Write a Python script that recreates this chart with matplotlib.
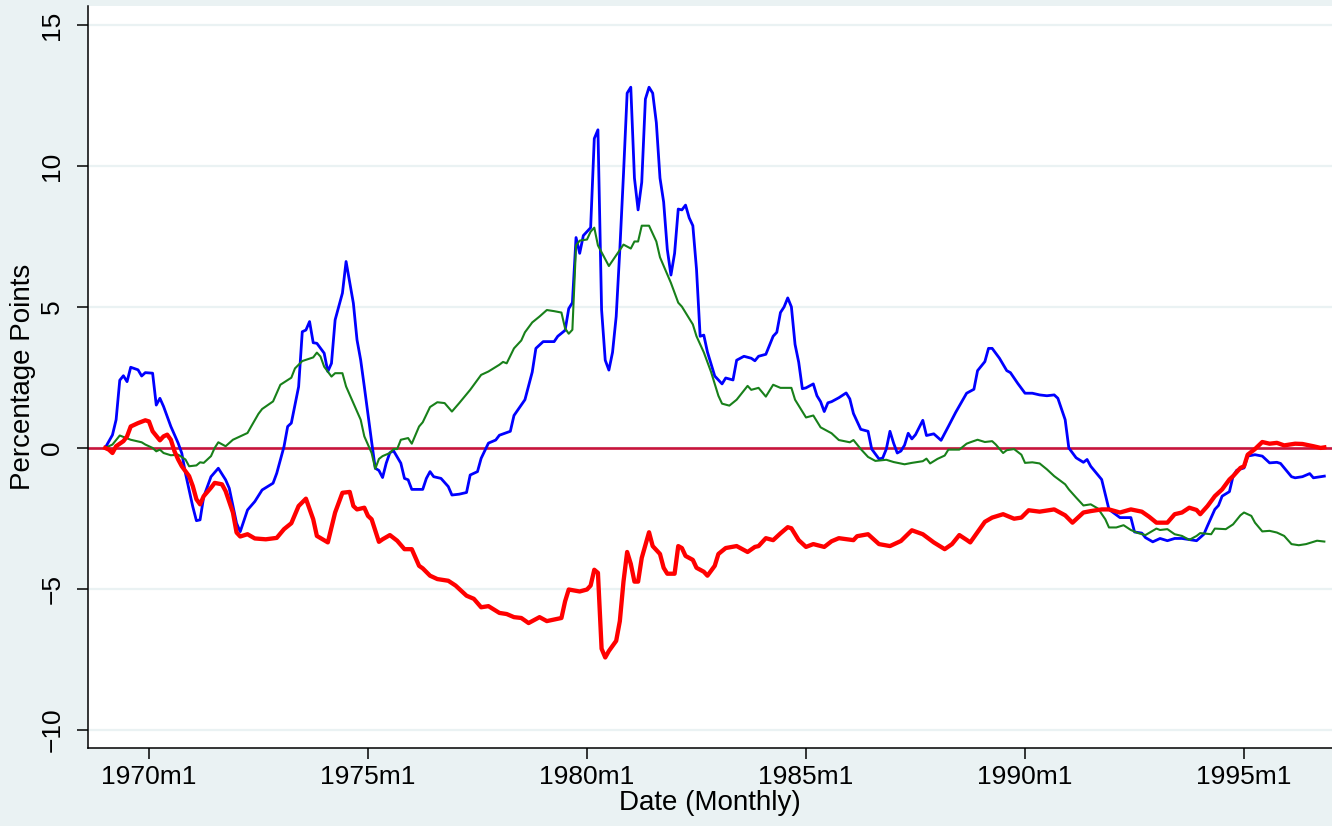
import numpy as np
import matplotlib
matplotlib.use("Agg")
import matplotlib.pyplot as plt

# months counted from 1970m1 (negative = 1969)
blue_m = [-12, -10, -9, -8, -7, -6, -5, -3, -2, -1, 1, 2, 3, 4, 6, 8, 9, 10, 12, 13, 14, 15, 17, 19, 21, 22, 24, 25,
          27, 29, 31, 34, 35, 37, 38, 39, 41, 42, 43, 44, 45, 46, 48, 49, 50, 51, 53, 54, 56, 57, 58, 59, 61, 62, 63,
          64, 65, 66, 67, 69, 70, 71, 72, 75, 76, 77, 78, 80, 82, 83, 85, 87, 88, 90, 91, 93, 95, 96, 99, 100, 103,
          105, 106, 108, 111, 112, 114, 115, 116, 117, 118, 119, 120, 121, 122, 123, 124, 125, 126, 127, 128, 129,
          130, 131, 132, 133, 134, 135, 136, 137, 138, 139, 140, 141, 142, 143, 144, 145, 146, 147, 148, 149, 150,
          151, 152, 153, 154, 155, 157, 158, 160, 161, 163, 165, 166, 167, 169, 171, 172, 173, 174, 175, 176, 177,
          178, 179, 180, 182, 183, 184, 185, 186, 187, 189, 191, 192, 193, 195, 197, 198, 200, 201, 202, 203, 204,
          205, 206, 207, 208, 209, 210, 212, 213, 215, 217, 219, 221, 223, 224, 226, 227, 229, 230, 231, 233, 235,
          236, 238, 240, 242, 244, 246, 248, 249, 251, 252, 254, 256, 257, 258, 261, 263, 266, 269, 270, 272, 273,
          275, 277, 279, 281, 283, 287, 289, 290, 292, 293, 294, 296, 297, 298, 300, 301, 303, 305, 307, 309, 310,
          313, 314, 316, 318, 319, 321, 322]
blue_v = [0, 0.46, 1.0, 2.4, 2.56, 2.35, 2.86, 2.77, 2.55, 2.67, 2.65, 1.52, 1.76, 1.47, 0.76, 0.17, -0.19, -0.9,
          -2.08, -2.58, -2.55, -1.73, -1.02, -0.72, -1.13, -1.43, -2.67, -2.97, -2.2, -1.9, -1.49, -1.25, -0.9, 0.05,
          0.76, 0.88, 2.17, 4.12, 4.18, 4.48, 3.73, 3.71, 3.36, 2.71, 3.0, 4.54, 5.49, 6.61, 5.13, 3.83, 3.12, 2.17,
          0.22, -0.72, -0.8, -1.05, -0.54, -0.17, -0.1, -0.54, -1.08, -1.13, -1.47, -1.47, -1.08, -0.84, -1.02,
          -1.08, -1.37, -1.67, -1.64, -1.58, -0.96, -0.84, -0.37, 0.17, 0.28, 0.45, 0.59, 1.15, 1.71, 2.69, 3.53,
          3.77, 3.77, 3.96, 4.17, 4.94, 5.15, 7.46, 6.9, 7.53, 7.67, 7.81, 10.97, 11.28, 4.9, 3.11, 2.76, 3.39, 4.66,
          7.04, 9.71, 12.58, 12.79, 9.57, 8.44, 9.42, 12.37, 12.79, 12.58, 11.53, 9.57, 8.72, 7.04, 6.13, 6.9, 8.47,
          8.44, 8.61, 8.16, 7.88, 6.34, 3.96, 4.0, 3.4, 2.97, 2.55, 2.27, 2.48, 2.41, 3.11, 3.25, 3.18, 3.09, 3.25,
          3.32, 3.96, 4.1, 4.8, 5.0, 5.32, 5.0, 3.67, 3.04, 2.1, 2.13, 2.27, 1.85, 1.64, 1.29, 1.6, 1.64, 1.78, 1.95,
          1.74, 1.22, 0.66, 0.59, -0.04, -0.39, -0.36, -0.04, 0.59, 0.17, -0.18, -0.11, 0.1, 0.52, 0.32, 0.47, 0.98,
          0.44, 0.5, 0.27, 0.76, 1.26, 1.71, 1.94, 2.08, 2.74, 3.06, 3.53, 3.53, 3.18, 2.74, 2.67, 2.29, 1.94, 1.94,
          1.88, 1.85, 1.88, 1.76, 1.0, 0.0, -0.35, -0.51, -0.41, -0.65, -1.12, -2.18, -2.47, -2.47, -2.98, -3.02,
          -3.18, -3.33, -3.21, -3.29, -3.21, -3.21, -3.29, -3.06, -2.76, -2.18, -2.04, -1.71, -1.55, -1.0, -0.79,
          -0.71, -0.29, -0.24, -0.29, -0.53, -0.51, -0.55, -1.02, -1.06, -1.02, -0.91, -1.06, -1.02, -1.0]

green_m = [-12, -10, -8, -7, -5, -2, -1, 1, 2, 3, 4, 6, 8, 10, 11, 13, 14, 15, 17, 18, 19, 21, 23, 25, 27, 28, 30,
           31, 34, 36, 39, 40, 42, 45, 46, 47, 48, 50, 51, 53, 54, 56, 58, 59, 61, 62, 63, 64, 66, 67, 68, 69, 71,
           72, 74, 75, 77, 79, 81, 83, 85, 88, 91, 93, 96, 97, 98, 100, 102, 103, 105, 107, 109, 111, 113, 114, 115,
           116, 117, 118, 120, 121, 122, 123, 126, 128, 130, 132, 133, 134, 135, 137, 139, 140, 143, 145, 146, 149,
           150, 152, 154, 156, 157, 159, 161, 164, 165, 167, 169, 171, 173, 176, 177, 180, 182, 184, 187, 189, 192,
           193, 195, 197, 199, 202, 204, 207, 209, 212, 213, 214, 216, 218, 219, 222, 224, 225, 227, 229, 231, 232,
           234, 235, 237, 239, 240, 242, 244, 246, 248, 251, 252, 254, 256, 258, 260, 262, 263, 265, 267, 269, 271,
           273, 276, 277, 279, 281, 283, 285, 287, 288, 291, 292, 295, 297, 299, 300, 302, 303, 305, 307, 309, 311,
           313, 315, 317, 320, 322]
green_v = [0, 0.12, 0.44, 0.39, 0.29, 0.2, 0.12, 0, -0.12, -0.06, -0.18, -0.26, -0.24, -0.41, -0.65, -0.62, -0.51,
           -0.53, -0.29, 0, 0.2, 0.06, 0.29, 0.41, 0.53, 0.76, 1.21, 1.38, 1.65, 2.24, 2.49, 2.82, 3.08, 3.21, 3.38,
           3.24, 2.88, 2.53, 2.65, 2.65, 2.18, 1.59, 1.0, 0.41, -0.18, -0.74, -0.39, -0.29, -0.18, -0.04, -0.04, 0.29,
           0.35, 0.15, 0.76, 0.91, 1.45, 1.62, 1.59, 1.29, 1.59, 2.06, 2.59, 2.71, 2.95, 3.05, 3.0, 3.53, 3.81, 4.1,
           4.45, 4.66, 4.89, 4.85, 4.8, 4.24, 4.05, 4.19, 7.18, 7.35, 7.39, 7.67, 7.81, 7.18, 6.45, 6.83, 7.21, 7.07,
           7.32, 7.32, 7.88, 7.88, 7.32, 6.76, 5.85, 5.15, 5.01, 4.38, 3.96, 3.39, 2.69, 1.85, 1.57, 1.5, 1.71, 2.2,
           2.06, 2.13, 1.82, 2.24, 2.13, 2.13, 1.71, 1.08, 1.15, 0.73, 0.52, 0.28, 0.2, 0.28, -0.04, -0.32, -0.46,
           -0.42, -0.5, -0.58, -0.53, -0.47, -0.38, -0.55, -0.39, -0.27, -0.06, -0.06, 0.15, 0.2, 0.29, 0.21, 0.24,
           0.12, -0.18, -0.08, -0.04, -0.24, -0.53, -0.51, -0.55, -0.76, -1.0, -1.29, -1.47, -1.76, -2.04, -2.0,
           -2.15, -2.53, -2.82, -2.82, -2.74, -2.91, -3.02, -3.09, -2.86, -2.91, -2.88, -3.06, -3.12, -3.26, -3.12,
           -3.02, -3.06, -2.86, -2.88, -2.71, -2.39, -2.29, -2.41, -2.65, -2.96, -2.94, -3.0, -3.12, -3.41, -3.45,
           -3.41, -3.29, -3.32]

red_m = [-12, -11, -10, -9, -7, -6, -5, -3, -1, 0, 1, 3, 4, 5, 6, 7, 8, 9, 11, 12, 13, 14, 15, 17, 18, 20, 21, 23,
         24, 25, 27, 29, 32, 35, 37, 39, 41, 43, 45, 46, 49, 51, 53, 55, 56, 57, 59, 60, 61, 63, 64, 66, 68, 70, 72,
         74, 75, 77, 79, 82, 84, 87, 89, 91, 93, 96, 98, 100, 102, 104, 107, 109, 113, 114, 115, 118, 120, 121, 122,
         123, 124, 125, 126, 128, 129, 130, 131, 132, 133, 134, 135, 137, 138, 140, 141, 142, 144, 145, 146, 147,
         149, 150, 152, 153, 155, 156, 158, 161, 164, 166, 167, 169, 171, 173, 175, 176, 178, 180, 182, 185, 187,
         189, 193, 194, 197, 200, 203, 206, 209, 212, 215, 218, 220, 222, 224, 225, 229, 231, 234, 237, 239, 241,
         244, 248, 251, 253, 256, 258, 261, 263, 266, 269, 272, 274, 276, 279, 281, 283, 285, 287, 288, 290, 292,
         294, 296, 297, 299, 300, 301, 303, 305, 307, 309, 311, 314, 316, 319, 321, 322]
red_v = [0, -0.06, -0.18, 0.06, 0.24, 0.41, 0.76, 0.88, 0.98, 0.94, 0.59, 0.27, 0.41, 0.47, 0.29, -0.12, -0.41, -0.65,
         -1.0, -1.35, -1.82, -2.0, -1.71, -1.41, -1.24, -1.29, -1.53, -2.29, -3.0, -3.14, -3.06, -3.21, -3.24, -3.19,
         -2.88, -2.67, -2.06, -1.8, -2.53, -3.12, -3.35, -2.29, -1.59, -1.56, -2.06, -2.18, -2.12, -2.41, -2.53,
         -3.33, -3.24, -3.09, -3.29, -3.59, -3.59, -4.18, -4.27, -4.53, -4.65, -4.71, -4.88, -5.24, -5.35, -5.65,
         -5.61, -5.85, -5.89, -6.0, -6.03, -6.21, -6.0, -6.14, -6.03, -5.44, -5.02, -5.09, -5.02, -4.88, -4.32,
         -4.43, -7.12, -7.43, -7.2, -6.84, -6.14, -4.74, -3.69, -4.11, -4.74, -4.74, -3.9, -2.99, -3.48, -3.76,
         -4.25, -4.46, -4.46, -3.48, -3.55, -3.83, -3.97, -4.25, -4.39, -4.53, -4.18, -3.76, -3.55, -3.48, -3.69,
         -3.51, -3.48, -3.2, -3.27, -3.03, -2.81, -2.85, -3.27, -3.51, -3.41, -3.51, -3.31, -3.2, -3.27, -3.13,
         -3.06, -3.41, -3.48, -3.3, -2.92, -3.06, -3.35, -3.59, -3.41, -3.09, -3.26, -3.35, -2.62, -2.47, -2.35,
         -2.51, -2.47, -2.21, -2.26, -2.18, -2.39, -2.65, -2.29, -2.24, -2.18, -2.18, -2.29, -2.18, -2.26, -2.44,
         -2.65, -2.65, -2.35, -2.29, -2.12, -2.2, -2.35, -2.06, -1.71, -1.47, -1.12, -1.0, -0.71, -0.65, -0.24,
         -0.04, 0.21, 0.15, 0.18, 0.09, 0.15, 0.14, 0.06, 0.0, 0.02]

tick_months = [0, 60, 120, 180, 240, 300]
tick_labels = ["1970m1", "1975m1", "1980m1", "1985m1", "1990m1", "1995m1"]
y_ticks = [-10, -5, 0, 5, 10, 15]

bg = "#eaf2f3"
plt.rcParams["font.family"] = ["Liberation Sans", "DejaVu Sans"]

fig = plt.figure(figsize=(13.32, 8.26), dpi=100, facecolor=bg)
ax = fig.add_axes([88 / 1332, 78 / 826, 1 - 88 / 1332, 742 / 826])
ax.set_facecolor("white")

for yv in y_ticks:
    ax.axhline(yv, color=bg, lw=1.6, zorder=0)
ax.axhline(0, color="#c8143c", lw=1.9, zorder=1)

ax.plot(blue_m, blue_v, color="#0000ff", lw=2.0, zorder=3)
ax.plot(green_m, green_v, color="#18801a", lw=1.5, zorder=3)
ax.plot(red_m, red_v, color="#ff0000", lw=3.1, zorder=4)

ax.set_xlim(-16.7, 324.1)
ax.set_ylim(-10.64, 15.67)
ax.set_xticks(tick_months)
ax.set_xticklabels(tick_labels)
ax.set_yticks(y_ticks)
ax.set_yticklabels([str(v).replace("-", "\u2212") for v in y_ticks], rotation=90, va="center")
ax.tick_params(axis="both", direction="out", length=8, width=1.1, labelsize=19, colors="black")
ax.tick_params(axis="y", pad=9)
ax.tick_params(axis="x", pad=4)

for side in ["top", "right"]:
    ax.spines[side].set_visible(False)
for side in ["left", "bottom"]:
    ax.spines[side].set_linewidth(1.1)

ax.set_xlabel("Date (Monthly)", fontsize=20, labelpad=1)
ax.set_ylabel("Percentage Points", fontsize=20, labelpad=3)

fig.savefig("out.png", dpi=100, facecolor=bg)
